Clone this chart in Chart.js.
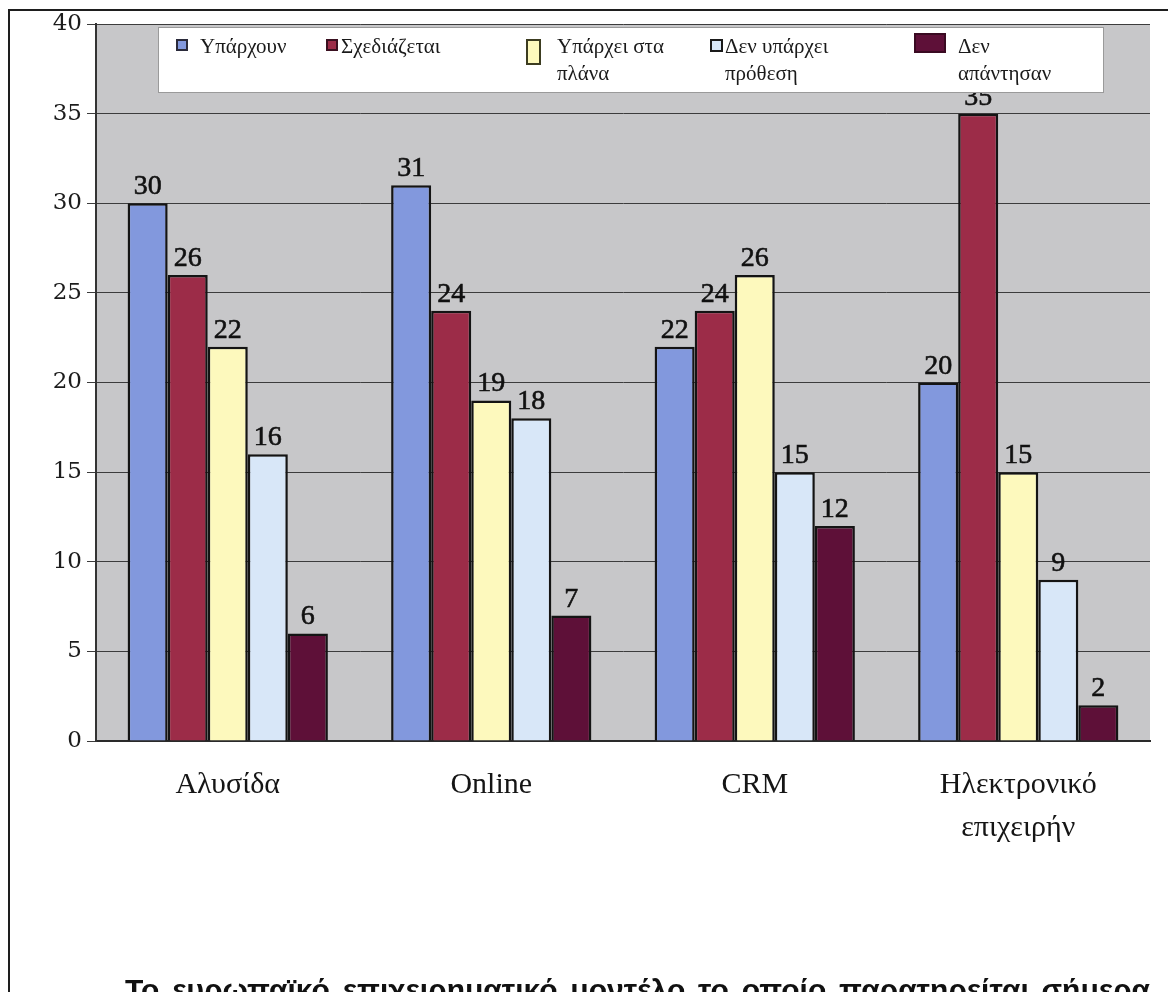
<!DOCTYPE html>
<html>
<head>
<meta charset="utf-8">
<script src="https://cdn.jsdelivr.net/npm/chart.js@4.4.1/dist/chart.umd.min.js"></script>
<style>
  html, body { margin: 0; padding: 0; background: #fff; overflow: hidden; width: 1168px; height: 992px; }
  #wrap { position: relative; width: 1168px; height: 992px; }
  #chart { position: absolute; left: 0; top: 0; }
  .rule { position: absolute; background: #1e1e1e; }
  #para { position: absolute; left: 125px; top: 975px; width: 1025px; font: bold 30px "Liberation Sans", Arial, sans-serif;
          line-height: 30px; text-align: justify; text-align-last: justify; color: #111; }
</style>
</head>
<body>
<div id="wrap">
  <canvas id="chart" width="1168" height="992"></canvas>
  <div class="rule" style="left:8px; top:9px; width:2px; height:983px;"></div>
  <div class="rule" style="left:8px; top:9px; width:1160px; height:2px;"></div>
  <div id="para">Το ευρωπαϊκό επιχειρηματικό μοντέλο το οποίο παρατηρείται σήμερα</div>
</div>
<script>
// Categories along the x axis (multi-line where the label wraps)
const categories = ['Αλυσίδα', 'Online', 'CRM', ['Ηλεκτρονικό', 'επιχειρήν']];

// Series values, one per category
const yparxoun     = [30, 31, 22, 20];
const sxediazetai  = [26, 24, 24, 35];
const staPlana     = [22, 19, 26, 15];
const denProthesi  = [16, 18, 15, 9];
const denApantisan = [6, 7, 12, 2];

// Legend text lines for each series
const seriesLabels = [
  ['Υπάρχουν'],
  ['Σχεδιάζεται'],
  ['Υπάρχει στα', 'πλάνα'],
  ['Δεν υπάρχει', 'πρόθεση'],
  ['Δεν', 'απάντησαν']
];

// Value axis range
const yMin = 0, yMax = 40, yStep = 5;

const seriesValues = [yparxoun, sxediazetai, staPlana, denProthesi, denApantisan];
const fills = ['#8298dd', '#9c2c48', '#fdf9bd', '#d8e7f8', '#5e1038'];

// Legend marker look and placement (x of marker, x of text, marker box)
const legendItems = [
  { mx: 177, my: 40, mw: 10, mh: 10, tx: 200, stroke: '#2a2a3a' },
  { mx: 327, my: 40, mw: 10, mh: 10, tx: 341, stroke: '#3a1020' },
  { mx: 527, my: 40, mw: 13, mh: 24, tx: 557, stroke: '#3c3c20' },
  { mx: 711, my: 40, mw: 11, mh: 11, tx: 725, stroke: '#1a1a1a' },
  { mx: 915, my: 34, mw: 30, mh: 18, tx: 958, stroke: '#3a0a22' }
];

const plotBackground = {
  id: 'plotBackground',
  beforeDraw(chart) {
    const { ctx, chartArea: a } = chart;
    ctx.save();
    ctx.fillStyle = '#c7c7c9';
    ctx.fillRect(a.left, a.top, a.right - a.left, a.bottom - a.top);
    ctx.restore();
  }
};

const valueLabels = {
  id: 'valueLabels',
  afterDatasetsDraw(chart) {
    const ctx = chart.ctx;
    ctx.save();
    ctx.font = '28px "Liberation Serif", "Times New Roman", serif';
    ctx.fillStyle = '#111';
    ctx.strokeStyle = '#111';
    ctx.lineWidth = 0.6;
    ctx.textAlign = 'center';
    ctx.textBaseline = 'alphabetic';
    chart.data.datasets.forEach((ds, i) => {
      chart.getDatasetMeta(i).data.forEach((bar, j) => {
        const t = String(ds.data[j]);
        ctx.fillText(t, bar.x, bar.y - 9);
        ctx.strokeText(t, bar.x, bar.y - 9);
      });
    });
    ctx.restore();
  }
};

const boxedLegend = {
  id: 'boxedLegend',
  afterDraw(chart) {
    const ctx = chart.ctx;
    ctx.save();
    ctx.fillStyle = '#ffffff';
    ctx.fillRect(158, 27, 945, 65);
    ctx.strokeStyle = '#9a9a9a';
    ctx.lineWidth = 1;
    ctx.strokeRect(158.5, 27.5, 945, 65);
    ctx.font = '21px "Liberation Serif", "Times New Roman", serif';
    ctx.textAlign = 'left';
    ctx.textBaseline = 'alphabetic';
    legendItems.forEach((it, i) => {
      ctx.fillStyle = chart.data.datasets[i].backgroundColor;
      ctx.fillRect(it.mx, it.my, it.mw, it.mh);
      ctx.strokeStyle = it.stroke;
      ctx.lineWidth = 2;
      ctx.strokeRect(it.mx, it.my, it.mw, it.mh);
      ctx.fillStyle = '#1a1a1a';
      seriesLabels[i].forEach((line, k) => ctx.fillText(line, it.tx, 53 + k * 27));
    });
    ctx.restore();
  }
};

new Chart(document.getElementById('chart'), {
  type: 'bar',
  data: {
    labels: categories,
    datasets: seriesValues.map((vals, i) => ({
      label: seriesLabels[i].join(' '),
      data: vals,
      backgroundColor: fills[i],
      borderColor: '#141414',
      borderWidth: 2.5,
      barPercentage: 1,
      categoryPercentage: 0.76
    }))
  },
  options: {
    responsive: false,
    animation: false,
    devicePixelRatio: 1,
    layout: { padding: { left: 0, top: 24, right: 18, bottom: 0 } },
    plugins: { legend: { display: false }, tooltip: { enabled: false } },
    scales: {
      x: {
        grid: { display: false },
        border: { display: true, color: '#2a2a2a', width: 2 },
        ticks: {
          color: '#151515',
          padding: 14,
          font: { family: '"Liberation Serif", "Times New Roman", serif', size: 30, lineHeight: 1.45 }
        },
        afterFit(scale) { scale.height = 251; }
      },
      y: {
        min: yMin,
        max: yMax,
        grid: { color: '#3c3c3c', lineWidth: 1, tickLength: 9, drawTicks: true },
        border: { display: true, color: '#333333', width: 2 },
        ticks: {
          stepSize: yStep,
          color: '#1c1c1c',
          padding: 5,
          font: { family: '"DejaVu Serif", serif', size: 23 }
        },
        afterFit(scale) { scale.width = 96; }
      }
    }
  },
  plugins: [plotBackground, valueLabels, boxedLegend]
});
</script>
</body>
</html>
